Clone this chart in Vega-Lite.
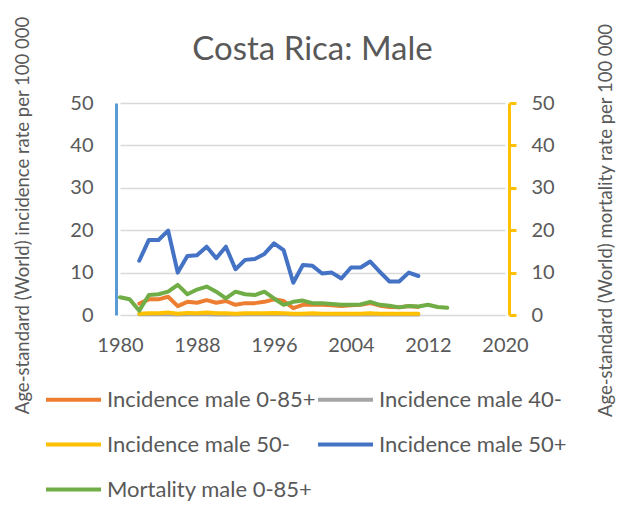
{
  "$schema": "https://vega.github.io/schema/vega-lite/v6.json",
  "autosize": {"type": "none"},
  "width": 393,
  "height": 212,
  "padding": {"left": 116, "top": 103, "right": 109, "bottom": 209},
  "background": "white",
  "config": {
    "font": "Lato",
    "view": {"stroke": null},
    "line": {"strokeWidth": 4, "strokeJoin": "round", "strokeCap": "round"}
  },
  "title": {
    "text": "Costa Rica: Male",
    "fontSize": 33,
    "fontWeight": "normal",
    "color": "#595959",
    "anchor": "middle",
    "frame": "group",
    "baseline": "alphabetic",
    "dy": 81
  },
  "datasets": {
    "inc": [
      {"Year":1982,"Series":"Incidence male 0-85+","Value":2.7},{"Year":1983,"Series":"Incidence male 0-85+","Value":3.7},{"Year":1984,"Series":"Incidence male 0-85+","Value":3.7},{"Year":1985,"Series":"Incidence male 0-85+","Value":4.3},{"Year":1986,"Series":"Incidence male 0-85+","Value":2.1},{"Year":1987,"Series":"Incidence male 0-85+","Value":3.1},{"Year":1988,"Series":"Incidence male 0-85+","Value":2.9},{"Year":1989,"Series":"Incidence male 0-85+","Value":3.5},{"Year":1990,"Series":"Incidence male 0-85+","Value":2.9},{"Year":1991,"Series":"Incidence male 0-85+","Value":3.3},{"Year":1992,"Series":"Incidence male 0-85+","Value":2.4},{"Year":1993,"Series":"Incidence male 0-85+","Value":2.8},{"Year":1994,"Series":"Incidence male 0-85+","Value":2.8},{"Year":1995,"Series":"Incidence male 0-85+","Value":3.1},{"Year":1996,"Series":"Incidence male 0-85+","Value":3.7},{"Year":1997,"Series":"Incidence male 0-85+","Value":3.3},{"Year":1998,"Series":"Incidence male 0-85+","Value":1.6},{"Year":1999,"Series":"Incidence male 0-85+","Value":2.4},{"Year":2000,"Series":"Incidence male 0-85+","Value":2.5},{"Year":2001,"Series":"Incidence male 0-85+","Value":2.4},{"Year":2002,"Series":"Incidence male 0-85+","Value":2.3},{"Year":2003,"Series":"Incidence male 0-85+","Value":2.1},{"Year":2004,"Series":"Incidence male 0-85+","Value":2.3},{"Year":2005,"Series":"Incidence male 0-85+","Value":2.4},{"Year":2006,"Series":"Incidence male 0-85+","Value":2.8},{"Year":2007,"Series":"Incidence male 0-85+","Value":2.2},{"Year":2008,"Series":"Incidence male 0-85+","Value":1.9},{"Year":2009,"Series":"Incidence male 0-85+","Value":1.8},{"Year":2010,"Series":"Incidence male 0-85+","Value":2.1},{"Year":2011,"Series":"Incidence male 0-85+","Value":1.9},
      {"Year":1982,"Series":"Incidence male 40-","Value":0.2},{"Year":1983,"Series":"Incidence male 40-","Value":0.2},{"Year":1984,"Series":"Incidence male 40-","Value":0.2},{"Year":1985,"Series":"Incidence male 40-","Value":0.2},{"Year":1986,"Series":"Incidence male 40-","Value":0.1},{"Year":1987,"Series":"Incidence male 40-","Value":0.2},{"Year":1988,"Series":"Incidence male 40-","Value":0.2},{"Year":1989,"Series":"Incidence male 40-","Value":0.2},{"Year":1990,"Series":"Incidence male 40-","Value":0.1},{"Year":1991,"Series":"Incidence male 40-","Value":0.2},{"Year":1992,"Series":"Incidence male 40-","Value":0.1},{"Year":1993,"Series":"Incidence male 40-","Value":0.2},{"Year":1994,"Series":"Incidence male 40-","Value":0.2},{"Year":1995,"Series":"Incidence male 40-","Value":0.2},{"Year":1996,"Series":"Incidence male 40-","Value":0.2},{"Year":1997,"Series":"Incidence male 40-","Value":0.2},{"Year":1998,"Series":"Incidence male 40-","Value":0.1},{"Year":1999,"Series":"Incidence male 40-","Value":0.1},{"Year":2000,"Series":"Incidence male 40-","Value":0.2},{"Year":2001,"Series":"Incidence male 40-","Value":0.1},{"Year":2002,"Series":"Incidence male 40-","Value":0.1},{"Year":2003,"Series":"Incidence male 40-","Value":0.1},{"Year":2004,"Series":"Incidence male 40-","Value":0.1},{"Year":2005,"Series":"Incidence male 40-","Value":0.1},{"Year":2006,"Series":"Incidence male 40-","Value":0.2},{"Year":2007,"Series":"Incidence male 40-","Value":0.1},{"Year":2008,"Series":"Incidence male 40-","Value":0.1},{"Year":2009,"Series":"Incidence male 40-","Value":0.1},{"Year":2010,"Series":"Incidence male 40-","Value":0.1},{"Year":2011,"Series":"Incidence male 40-","Value":0.1},
      {"Year":1982,"Series":"Incidence male 50-","Value":0.3},{"Year":1983,"Series":"Incidence male 50-","Value":0.4},{"Year":1984,"Series":"Incidence male 50-","Value":0.4},{"Year":1985,"Series":"Incidence male 50-","Value":0.6},{"Year":1986,"Series":"Incidence male 50-","Value":0.3},{"Year":1987,"Series":"Incidence male 50-","Value":0.5},{"Year":1988,"Series":"Incidence male 50-","Value":0.4},{"Year":1989,"Series":"Incidence male 50-","Value":0.6},{"Year":1990,"Series":"Incidence male 50-","Value":0.4},{"Year":1991,"Series":"Incidence male 50-","Value":0.4},{"Year":1992,"Series":"Incidence male 50-","Value":0.3},{"Year":1993,"Series":"Incidence male 50-","Value":0.4},{"Year":1994,"Series":"Incidence male 50-","Value":0.4},{"Year":1995,"Series":"Incidence male 50-","Value":0.4},{"Year":1996,"Series":"Incidence male 50-","Value":0.5},{"Year":1997,"Series":"Incidence male 50-","Value":0.4},{"Year":1998,"Series":"Incidence male 50-","Value":0.3},{"Year":1999,"Series":"Incidence male 50-","Value":0.3},{"Year":2000,"Series":"Incidence male 50-","Value":0.4},{"Year":2001,"Series":"Incidence male 50-","Value":0.3},{"Year":2002,"Series":"Incidence male 50-","Value":0.3},{"Year":2003,"Series":"Incidence male 50-","Value":0.3},{"Year":2004,"Series":"Incidence male 50-","Value":0.3},{"Year":2005,"Series":"Incidence male 50-","Value":0.3},{"Year":2006,"Series":"Incidence male 50-","Value":0.4},{"Year":2007,"Series":"Incidence male 50-","Value":0.3},{"Year":2008,"Series":"Incidence male 50-","Value":0.3},{"Year":2009,"Series":"Incidence male 50-","Value":0.3},{"Year":2010,"Series":"Incidence male 50-","Value":0.3},{"Year":2011,"Series":"Incidence male 50-","Value":0.3},
      {"Year":1982,"Series":"Incidence male 50+","Value":12.8},{"Year":1983,"Series":"Incidence male 50+","Value":17.7},{"Year":1984,"Series":"Incidence male 50+","Value":17.7},{"Year":1985,"Series":"Incidence male 50+","Value":19.9},{"Year":1986,"Series":"Incidence male 50+","Value":10.0},{"Year":1987,"Series":"Incidence male 50+","Value":13.9},{"Year":1988,"Series":"Incidence male 50+","Value":14.1},{"Year":1989,"Series":"Incidence male 50+","Value":16.1},{"Year":1990,"Series":"Incidence male 50+","Value":13.4},{"Year":1991,"Series":"Incidence male 50+","Value":16.1},{"Year":1992,"Series":"Incidence male 50+","Value":10.8},{"Year":1993,"Series":"Incidence male 50+","Value":13.0},{"Year":1994,"Series":"Incidence male 50+","Value":13.2},{"Year":1995,"Series":"Incidence male 50+","Value":14.4},{"Year":1996,"Series":"Incidence male 50+","Value":16.9},{"Year":1997,"Series":"Incidence male 50+","Value":15.3},{"Year":1998,"Series":"Incidence male 50+","Value":7.6},{"Year":1999,"Series":"Incidence male 50+","Value":11.8},{"Year":2000,"Series":"Incidence male 50+","Value":11.6},{"Year":2001,"Series":"Incidence male 50+","Value":9.8},{"Year":2002,"Series":"Incidence male 50+","Value":10.0},{"Year":2003,"Series":"Incidence male 50+","Value":8.6},{"Year":2004,"Series":"Incidence male 50+","Value":11.2},{"Year":2005,"Series":"Incidence male 50+","Value":11.2},{"Year":2006,"Series":"Incidence male 50+","Value":12.6},{"Year":2007,"Series":"Incidence male 50+","Value":10.2},{"Year":2008,"Series":"Incidence male 50+","Value":7.9},{"Year":2009,"Series":"Incidence male 50+","Value":7.9},{"Year":2010,"Series":"Incidence male 50+","Value":10.0},{"Year":2011,"Series":"Incidence male 50+","Value":9.2}
    ],
    "mort": [
      {"Year":1980,"Series":"Mortality male 0-85+","Value":4.2},{"Year":1981,"Series":"Mortality male 0-85+","Value":3.7},{"Year":1982,"Series":"Mortality male 0-85+","Value":1.0},{"Year":1983,"Series":"Mortality male 0-85+","Value":4.7},{"Year":1984,"Series":"Mortality male 0-85+","Value":4.9},{"Year":1985,"Series":"Mortality male 0-85+","Value":5.5},{"Year":1986,"Series":"Mortality male 0-85+","Value":7.1},{"Year":1987,"Series":"Mortality male 0-85+","Value":4.9},{"Year":1988,"Series":"Mortality male 0-85+","Value":6.0},{"Year":1989,"Series":"Mortality male 0-85+","Value":6.7},{"Year":1990,"Series":"Mortality male 0-85+","Value":5.5},{"Year":1991,"Series":"Mortality male 0-85+","Value":3.9},{"Year":1992,"Series":"Mortality male 0-85+","Value":5.5},{"Year":1993,"Series":"Mortality male 0-85+","Value":4.9},{"Year":1994,"Series":"Mortality male 0-85+","Value":4.7},{"Year":1995,"Series":"Mortality male 0-85+","Value":5.5},{"Year":1996,"Series":"Mortality male 0-85+","Value":3.9},{"Year":1997,"Series":"Mortality male 0-85+","Value":2.4},{"Year":1998,"Series":"Mortality male 0-85+","Value":3.1},{"Year":1999,"Series":"Mortality male 0-85+","Value":3.4},{"Year":2000,"Series":"Mortality male 0-85+","Value":2.8},{"Year":2001,"Series":"Mortality male 0-85+","Value":2.8},{"Year":2002,"Series":"Mortality male 0-85+","Value":2.6},{"Year":2003,"Series":"Mortality male 0-85+","Value":2.4},{"Year":2004,"Series":"Mortality male 0-85+","Value":2.4},{"Year":2005,"Series":"Mortality male 0-85+","Value":2.5},{"Year":2006,"Series":"Mortality male 0-85+","Value":3.1},{"Year":2007,"Series":"Mortality male 0-85+","Value":2.4},{"Year":2008,"Series":"Mortality male 0-85+","Value":2.2},{"Year":2009,"Series":"Mortality male 0-85+","Value":1.8},{"Year":2010,"Series":"Mortality male 0-85+","Value":2.1},{"Year":2011,"Series":"Mortality male 0-85+","Value":2.0},{"Year":2012,"Series":"Mortality male 0-85+","Value":2.4},{"Year":2013,"Series":"Mortality male 0-85+","Value":1.9},{"Year":2014,"Series":"Mortality male 0-85+","Value":1.7}
    ]
  },
  "layer": [
    {
      "data": {"name": "inc"},
      "mark": {"type": "line", "clip": false},
      "encoding": {
        "x": {
          "field": "Year", "type": "quantitative",
          "scale": {"domain": [1980, 2020], "range": [4, 389], "nice": false, "zero": false},
          "axis": {
            "values": [1980, 1988, 1996, 2004, 2012, 2020], "format": "d", "title": null,
            "domain": false, "ticks": false, "grid": false,
            "labelFlush": false, "labelOverlap": false, "labelBound": false,
            "labelFontSize": 20, "labelColor": "#595959", "labelPadding": 20
          }
        },
        "y": {
          "field": "Value", "type": "quantitative",
          "scale": {"domain": [0, 50], "nice": false, "zero": true},
          "axis": {
            "orient": "left", "values": [0, 10, 20, 30, 40, 50],
            "title": "Age-standard (World) incidence rate per 100 000",
            "titleFontSize": 18.5, "titleFontWeight": "normal", "titleColor": "#595959",
            "titleAngle": -90, "titleX": -94, "titleY": 112, "titleBaseline": "middle", "titleAlign": "center",
            "domainColor": "#5B9BD5", "domainWidth": 3, "ticks": false,
            "labelFontSize": 20, "labelColor": "#595959", "labelPadding": 23,
            "grid": true, "gridColor": "#D9D9D9", "gridWidth": 1.5
          }
        },
        "color": {
          "field": "Series", "type": "nominal",
          "scale": {
            "domain": ["Incidence male 0-85+", "Incidence male 40-", "Incidence male 50-", "Incidence male 50+", "Mortality male 0-85+"],
            "range": ["#ED7D31", "#A5A5A5", "#FFC000", "#4472C4", "#70AD47"]
          },
          "legend": {
            "title": null, "orient": "none", "legendX": -72, "legendY": 267,
            "columns": 2, "direction": "horizontal",
            "symbolType": "stroke", "symbolSize": 3025, "symbolStrokeWidth": 5,
            "labelFontSize": 22, "labelColor": "#595959", "labelOffset": 4,
            "rowPadding": 4, "columnPadding": 0, "padding": 0, "labelLimit": 400
          }
        }
      }
    },
    {
      "data": {"name": "mort"},
      "mark": {"type": "line", "clip": false},
      "encoding": {
        "x": {
          "field": "Year", "type": "quantitative",
          "scale": {"domain": [1980, 2020], "range": [4, 389], "nice": false, "zero": false}
        },
        "y": {
          "field": "Value", "type": "quantitative",
          "scale": {"domain": [0, 50], "nice": false, "zero": true},
          "axis": {
            "orient": "right", "values": [0, 10, 20, 30, 40, 50],
            "title": "Age-standard (World) mortality rate per 100 000",
            "titleFontSize": 18.5, "titleFontWeight": "normal", "titleColor": "#595959",
            "titleAngle": -90, "titleX": 96, "titleY": 117, "titleBaseline": "middle", "titleAlign": "center",
            "domainColor": "#FFC000", "domainWidth": 3,
            "tickColor": "#FFC000", "tickWidth": 3, "tickSize": 7,
            "labelFontSize": 20, "labelColor": "#595959", "labelPadding": 15,
            "grid": false
          }
        },
        "color": {
          "field": "Series", "type": "nominal",
          "scale": {
            "domain": ["Incidence male 0-85+", "Incidence male 40-", "Incidence male 50-", "Incidence male 50+", "Mortality male 0-85+"],
            "range": ["#ED7D31", "#A5A5A5", "#FFC000", "#4472C4", "#70AD47"]
          }
        }
      }
    }
  ],
  "resolve": {"scale": {"y": "independent"}}
}
